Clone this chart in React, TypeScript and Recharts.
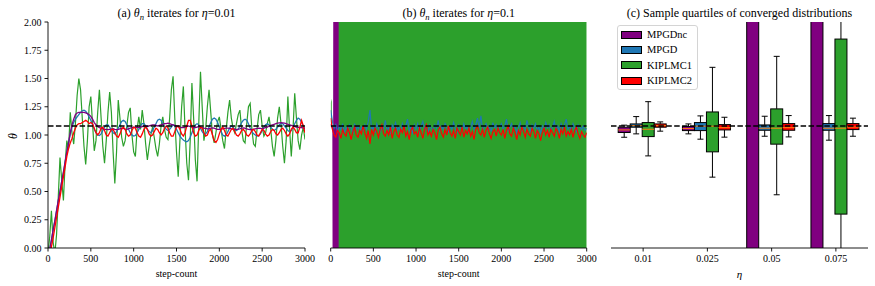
import React from 'react';
import { ComposedChart, Line, Area, Bar, XAxis, YAxis, ReferenceLine } from 'recharts';

const FONT = '"Liberation Serif", "Times New Roman", Times, "DejaVu Serif", serif';

// step-count grid shared by the iterate traces
const steps = [
  0, 20, 40, 60, 80, 100, 120, 140, 160, 180,
  200, 220, 240, 260, 280, 300, 320, 340, 360, 380,
  400, 420, 440, 460, 480, 500, 520, 540, 560, 580,
  600, 620, 640, 660, 680, 700, 720, 740, 760, 780,
  800, 820, 840, 860, 880, 900, 920, 940, 960, 980,
  1000, 1020, 1040, 1060, 1080, 1100, 1120, 1140, 1160, 1180,
  1200, 1220, 1240, 1260, 1280, 1300, 1320, 1340, 1360, 1380,
  1400, 1420, 1440, 1460, 1480, 1500, 1520, 1540, 1560, 1580,
  1600, 1620, 1640, 1660, 1680, 1700, 1720, 1740, 1760, 1780,
  1800, 1820, 1840, 1860, 1880, 1900, 1920, 1940, 1960, 1980,
  2000, 2020, 2040, 2060, 2080, 2100, 2120, 2140, 2160, 2180,
  2200, 2220, 2240, 2260, 2280, 2300, 2320, 2340, 2360, 2380,
  2400, 2420, 2440, 2460, 2480, 2500, 2520, 2540, 2560, 2580,
  2600, 2620, 2640, 2660, 2680, 2700, 2720, 2740, 2760, 2780,
  2800, 2820, 2840, 2860, 2880, 2900, 2920, 2940, 2960, 2980,
  3000,
];

// (a) eta = 0.01
const mpgdncA = [
  -0.1, -0.01, 0.07, 0.16, 0.24, 0.33, 0.42, 0.5, 0.59, 0.67,
  0.76, 0.85, 0.93, 1.02, 1.09, 1.14, 1.18, 1.195, 1.2, 1.2,
  1.2, 1.2, 1.195, 1.19, 1.18, 1.165, 1.14, 1.11, 1.09, 1.075,
  1.065, 1.06, 1.055, 1.05, 1.05, 1.048, 1.05, 1.052, 1.055, 1.05,
  1.048, 1.05, 1.055, 1.06, 1.058, 1.052, 1.05, 1.055, 1.06, 1.065,
  1.068, 1.07, 1.068, 1.065, 1.07, 1.075, 1.08, 1.078, 1.075, 1.08,
  1.085, 1.09, 1.09, 1.085, 1.08, 1.085, 1.09, 1.095, 1.1, 1.1,
  1.105, 1.1, 1.095, 1.09, 1.085, 1.08, 1.075, 1.07, 1.065, 1.065,
  1.07, 1.075, 1.08, 1.075, 1.07, 1.065, 1.065, 1.07, 1.075, 1.07,
  1.065, 1.06, 1.058, 1.055, 1.055, 1.06, 1.062, 1.06, 1.055, 1.05,
  1.05, 1.052, 1.055, 1.058, 1.06, 1.06, 1.058, 1.055, 1.052, 1.05,
  1.05, 1.052, 1.055, 1.06, 1.062, 1.06, 1.055, 1.05, 1.048, 1.05,
  1.052, 1.055, 1.058, 1.06, 1.058, 1.055, 1.06, 1.065, 1.07, 1.08,
  1.085, 1.09, 1.095, 1.1, 1.105, 1.108, 1.11, 1.108, 1.105, 1.1,
  1.095, 1.09, 1.085, 1.08, 1.075, 1.07, 1.068, 1.065, 1.065, 1.062,
  1.06,
];
const mpgdA = [
  -0.1, -0.01, 0.07, 0.16, 0.24, 0.33, 0.42, 0.5, 0.59, 0.67,
  0.76, 0.85, 0.93, 1.01, 1.07, 1.11, 1.14, 1.16, 1.18, 1.2,
  1.215, 1.22, 1.21, 1.19, 1.16, 1.13, 1.09, 1.05, 1.02, 1.0,
  0.995, 1.01, 1.04, 1.07, 1.09, 1.09, 1.07, 1.04, 1.02, 1.01,
  1.03, 1.06, 1.09, 1.12, 1.13, 1.12, 1.09, 1.05, 1.02, 1.0,
  0.99, 0.995, 1.02, 1.05, 1.08, 1.1, 1.1, 1.08, 1.05, 1.03,
  1.02, 1.04, 1.07, 1.1, 1.13, 1.14, 1.13, 1.1, 1.07, 1.05,
  1.04, 1.05, 1.07, 1.09, 1.08, 1.05, 1.02, 0.99, 0.97, 0.955,
  0.945, 0.94, 0.95, 0.98, 1.02, 1.06, 1.09, 1.1, 1.09, 1.06,
  1.03, 1.01, 1.01, 1.03, 1.07, 1.11, 1.14, 1.15, 1.14, 1.11,
  1.07, 1.03, 1.0, 0.99, 1.0, 1.03, 1.06, 1.08, 1.07, 1.05,
  1.04, 1.05, 1.08, 1.11, 1.13, 1.14, 1.13, 1.1, 1.06, 1.03,
  1.01, 1.0, 0.99, 0.995, 1.01, 1.04, 1.07, 1.09, 1.1, 1.09,
  1.07, 1.05, 1.04, 1.05, 1.07, 1.09, 1.1, 1.1, 1.08, 1.06,
  1.04, 1.03, 1.04, 1.07, 1.1, 1.13, 1.15, 1.14, 1.11, 1.08,
  1.05,
];
const kiplmc1A = [
  -0.05, 0.1, 0.33, 0.05, -0.05, 0.12, 0.45, 0.8, 0.6, 0.42,
  0.75, 0.95, 0.88, 1.2, 1.02, 0.92, 1.1, 1.35, 1.5, 1.4,
  1.15, 0.9, 0.74, 0.95, 1.25, 1.34, 1.1, 0.86, 0.95, 1.2,
  1.4, 1.15, 0.9, 0.75, 0.95, 1.2, 1.38, 1.2, 0.85, 0.57,
  0.85, 1.31, 1.15, 0.98, 0.9, 0.95, 1.08, 1.2, 1.24, 1.0,
  0.85, 0.81, 1.05, 1.16, 1.05, 1.22, 1.1, 0.92, 0.78, 0.9,
  1.0, 1.07, 0.98, 0.88, 0.81, 0.92, 1.08, 1.16, 1.05, 0.98,
  0.96, 1.15, 1.4, 1.52, 1.15, 0.85, 0.63, 0.95, 1.25, 1.43,
  1.05, 0.75, 0.6, 0.95, 1.46, 1.15, 0.78, 0.59, 1.1, 1.56,
  1.25, 0.95, 1.05, 1.25, 1.4, 1.2, 1.0, 0.93, 1.02, 1.12,
  1.16, 1.05, 0.95, 0.88, 1.05, 1.2, 1.31, 1.15, 1.06, 1.02,
  1.1, 1.18, 1.22, 1.05, 0.95, 0.93, 1.1, 1.25, 1.28, 1.05,
  0.92, 0.9, 1.05, 1.18, 1.22, 1.08, 0.99, 1.02, 1.1, 1.16,
  1.05, 0.9, 0.81, 0.95, 1.15, 1.25, 1.1, 0.9, 0.75, 0.95,
  1.34, 1.05, 0.81, 1.05, 1.37, 1.15, 0.95, 0.87, 1.0, 1.07,
  0.96,
];
const kiplmc2A = [
  -0.15, -0.06, 0.01, 0.09, 0.18, 0.27, 0.36, 0.45, 0.54, 0.63,
  0.72, 0.81, 0.88, 0.93, 0.97, 1.02, 1.06, 1.09, 1.1, 1.1,
  1.11, 1.12, 1.13, 1.12, 1.1, 1.11, 1.1, 1.06, 1.02, 1.0,
  1.02, 1.06, 1.07, 1.04, 1.0, 0.99, 1.02, 1.05, 1.05, 1.02,
  0.99, 0.98, 1.01, 1.05, 1.07, 1.05, 1.01, 0.99, 1.0, 1.04,
  1.07, 1.06, 1.02, 0.99, 0.98, 1.01, 1.05, 1.07, 1.05, 1.01,
  0.99, 1.0, 1.03, 1.06, 1.05, 1.02, 1.0, 1.02, 1.06, 1.08,
  1.06, 1.02, 0.99, 0.99, 1.03, 1.07, 1.08, 1.05, 1.01, 0.99,
  1.02, 1.08, 1.13, 1.13, 1.08, 1.02, 0.99, 1.0, 1.04, 1.07,
  1.06, 1.02, 0.99, 1.0, 1.04, 1.05, 1.0, 0.95, 0.935, 0.96,
  1.01, 1.05, 1.07, 1.04, 1.0, 0.99, 1.02, 1.05, 1.06, 1.03,
  1.0, 0.99, 1.01, 1.04, 1.05, 1.03, 1.0, 0.99, 1.01, 1.04,
  1.05, 1.03, 1.0, 0.99, 1.02, 1.05, 1.04, 1.01, 0.99, 1.0,
  1.03, 1.05, 1.04, 1.01, 1.0, 1.02, 1.05, 1.06, 1.04, 1.01,
  0.99, 1.01, 1.05, 1.07, 1.05, 1.02, 1.02, 1.07, 1.13, 1.08,
  1.02,
];

// (b) eta = 0.1
const mpgdB = [
  1.22, 1.12, 1.06, 1.09, 1.03, 1.08, 1.05, 1.1, 1.02, 1.07,
  1.04, 1.09, 1.06, 1.01, 1.1, 1.05, 1.08, 1.03, 1.07, 1.04,
  1.09, 1.05, 1.12, 1.22, 1.04, 1.08, 1.02, 1.1, 1.06, 1.03,
  1.08, 1.05, 1.13, 1.04, 1.07, 1.01, 1.09, 1.06, 1.11, 1.04,
  1.07, 1.03, 1.1, 1.05, 1.08, 1.14, 1.04, 1.07, 1.02, 1.09,
  1.05, 1.1, 1.03, 1.08, 1.12, 1.05, 1.07, 1.02, 1.09, 1.06,
  1.04, 1.09, 1.06, 1.13, 1.03, 1.08, 1.05, 1.1, 1.07, 1.03,
  1.08, 1.05, 1.11, 1.06, 1.02, 1.09, 1.07, 1.04, 1.1, 1.05,
  1.08, 1.03, 1.07, 1.12, 1.05, 1.09, 1.15, 1.06, 1.17, 1.04,
  1.07, 1.1, 1.05, 1.08, 1.03, 1.11, 1.06, 1.09, 1.04, 1.07,
  1.1, 1.05, 1.08, 1.14, 1.03, 1.07, 1.1, 1.05, 1.08, 1.02,
  1.06, 1.11, 1.04, 1.08, 1.05, 1.13, 1.07, 1.03, 1.09, 1.06,
  1.1, 1.04, 1.07, 1.02, 1.08, 1.05, 1.11, 1.06, 1.09, 1.04,
  1.07, 1.12, 1.05, 1.08, 1.03, 1.1, 1.06, 1.09, 1.14, 1.05,
  1.08, 1.04, 1.1, 1.06, 1.03, 1.09, 1.07, 1.05, 1.08, 1.04,
  1.06,
];
const kiplmc2B = [
  1.15, 1.05, 1.0, 0.98, 1.04, 1.02, 0.97, 1.05, 1.01, 0.99,
  1.06, 1.02, 0.96, 1.03, 1.07, 1.0, 0.98, 1.04, 1.01, 1.08,
  1.02, 0.97, 1.04, 0.92, 1.05, 1.0, 1.06, 1.03, 0.98, 1.05,
  1.09, 1.01, 0.99, 1.04, 1.0, 1.07, 0.97, 1.03, 1.06, 1.0,
  0.98, 1.05, 1.02, 1.08, 0.99, 1.03, 0.96, 1.04, 1.07, 1.01,
  1.03, 0.98, 1.06, 1.02, 0.97, 1.05, 1.09, 1.0, 1.03, 0.99,
  1.05, 1.02, 0.96, 1.04, 1.07, 1.01, 0.98, 1.05, 1.0, 1.08,
  1.02, 0.99, 1.04, 0.97, 1.06, 1.03, 1.0, 1.07, 0.98, 1.04,
  1.01, 1.06, 0.99, 1.03, 0.96, 1.05, 1.08, 1.02, 1.0, 1.05,
  0.98, 1.04, 1.07, 1.01, 0.97, 1.03, 1.05, 0.99, 1.06, 1.02,
  1.0, 1.05, 0.97, 1.04, 1.08, 1.01, 0.99, 1.06, 1.02, 0.96,
  1.04, 1.0, 1.07, 1.03, 0.98, 1.05, 1.01, 0.99, 1.06, 1.03,
  0.97, 1.04, 1.01, 0.95, 1.02, 1.06, 1.0, 1.04, 0.98, 1.05,
  1.02, 0.99, 1.06, 1.03, 0.97, 1.05, 1.01, 1.07, 0.99, 1.03,
  1.0, 1.05, 0.98, 1.04, 1.07, 1.01, 0.97, 1.03, 1.0, 0.98,
  1.02,
];
// MPGDnc diverges within the first hundred steps
const mpgdncBSteps = [0, 28, 34, 40, 46, 52, 58, 64, 70, 76, 82, 88];
const mpgdncBValues = [1.1, 1.05, -1.5, 3.2, -5, 7.5, -10, 13, -17, 22, -28, 35];
// KIPLMC1 oscillation envelope (blows up past the axis range)
const kiplmc1BSteps = [0, 12, 13, 86, 3000];
const kiplmc1BLow = [1.12, 1.08, null, -1000, -1000];
const kiplmc1BHigh = [1.28, 1.32, null, 1000, 1000];

const thetaStar = 1.08;
const stepTicks = [0, 500, 1000, 1500, 2000, 2500, 3000];
const thetaTicks = [0, 0.25, 0.5, 0.75, 1, 1.25, 1.5, 1.75, 2];
const thetaTickLabels = ['0.00', '0.25', '0.50', '0.75', '1.00', '1.25', '1.50', '1.75', '2.00'];

// (c) quartiles per step size
const etaLabels = ['0.01', '0.025', '0.05', '0.075'];
const mpgdncLo = [0.98, 1.01, -100, -100];
const mpgdncQ1 = [1.022, 1.039, -50, -50];
const mpgdncMed = [1.045, 1.057, null, null];
const mpgdncQ3 = [1.069, 1.075, 50, 50];
const mpgdncHi = [1.087, 1.098, 100, 100];

const mpgdLo = [1.01, 0.963, 0.989, 0.954];
const mpgdQ1 = [1.069, 1.039, 1.042, 1.042];
const mpgdMed = [1.083, 1.078, 1.06, 1.06];
const mpgdQ3 = [1.098, 1.11, 1.089, 1.101];
const mpgdHi = [1.163, 1.169, 1.166, 1.172];

const kiplmc1Lo = [0.815, 0.627, 0.471, -0.5];
const kiplmc1Q1 = [0.986, 0.851, 0.919, 0.3];
const kiplmc1Med = [1.051, 1.078, 1.06, 1.06];
const kiplmc1Q3 = [1.11, 1.204, 1.231, 1.849];
const kiplmc1Hi = [1.295, 1.599, 1.696, 2.6];

const kiplmc2Lo = [1.034, 0.981, 0.983, 0.989];
const kiplmc2Q1 = [1.069, 1.045, 1.042, 1.048];
const kiplmc2Med = [1.083, 1.065, 1.065, 1.07];
const kiplmc2Q3 = [1.098, 1.092, 1.101, 1.101];
const kiplmc2Hi = [1.116, 1.157, 1.172, 1.149];

const COLORS = {
  MPGDnc: '#800080',
  MPGD: '#1f77b4',
  KIPLMC1: '#2ca02c',
  KIPLMC2: '#ff0000',
};
const methodNames = ['MPGDnc', 'MPGD', 'KIPLMC1', 'KIPLMC2'];

const iteratesA = steps.map((step, i) => ({
  step,
  MPGDnc: mpgdncA[i],
  MPGD: mpgdA[i],
  KIPLMC1: kiplmc1A[i],
  KIPLMC2: kiplmc2A[i],
}));
const iteratesB = steps.map((step, i) => ({ step, MPGD: mpgdB[i], KIPLMC2: kiplmc2B[i] }));
const mpgdncBData = mpgdncBSteps.map((step, i) => ({ step, v: mpgdncBValues[i] }));
const kiplmc1BData = kiplmc1BSteps.map((step, i) => ({
  step,
  band: kiplmc1BLow[i] === null ? null : [kiplmc1BLow[i], kiplmc1BHigh[i]],
}));

const stats = (lo, q1, med, q3, hi, i) => ({ lo: lo[i], q1: q1[i], med: med[i], q3: q3[i], hi: hi[i] });
const quartileRows = etaLabels.map((eta, i) => ({
  eta,
  MPGDnc: stats(mpgdncLo, mpgdncQ1, mpgdncMed, mpgdncQ3, mpgdncHi, i),
  MPGD: stats(mpgdLo, mpgdQ1, mpgdMed, mpgdQ3, mpgdHi, i),
  KIPLMC1: stats(kiplmc1Lo, kiplmc1Q1, kiplmc1Med, kiplmc1Q3, kiplmc1Hi, i),
  KIPLMC2: stats(kiplmc2Lo, kiplmc2Q1, kiplmc2Med, kiplmc2Q3, kiplmc2Hi, i),
}));

const axisStroke = { stroke: '#000', strokeWidth: 0.9 };
const tickText = { fontFamily: FONT, fontSize: 10, fill: '#000' };
const thetaLabel = (v: number) => thetaTickLabels[thetaTicks.indexOf(v)] ?? '';
const blank = () => '';

// box + whiskers; the bar rectangle spans q1..q3, whiskers reuse its value-to-pixel ratio
const makeBox = (method: string) => (props: any) => {
  const { x, y, width, height, payload } = props;
  const s = payload[method];
  const top = Math.min(y, y + height);
  const h = Math.abs(height);
  const k = h / (s.q3 - s.q1);
  const py = (v: number) => top + (s.q3 - v) * k;
  const cx = x + width / 2;
  const cap = width / 4;
  return (
    <g>
      <line x1={cx} x2={cx} y1={py(s.hi)} y2={top} stroke="#000" strokeWidth={1} />
      <line x1={cx} x2={cx} y1={top + h} y2={py(s.lo)} stroke="#000" strokeWidth={1} />
      <line x1={cx - cap} x2={cx + cap} y1={py(s.hi)} y2={py(s.hi)} stroke="#000" strokeWidth={1} />
      <line x1={cx - cap} x2={cx + cap} y1={py(s.lo)} y2={py(s.lo)} stroke="#000" strokeWidth={1} />
      <rect x={x} y={top} width={width} height={h} fill={COLORS[method]} stroke="#000" strokeWidth={1} />
      {s.med !== null && (
        <line x1={x} x2={x + width} y1={py(s.med)} y2={py(s.med)} stroke="#ff7f0e" strokeWidth={1} />
      )}
    </g>
  );
};

const Title = ({ cx, children }: { cx: number; children: React.ReactNode }) => (
  <div
    style={{
      position: 'absolute',
      left: cx - 160,
      width: 320,
      top: 5,
      textAlign: 'center',
      fontSize: 12,
      lineHeight: '16px',
      whiteSpace: 'nowrap',
    }}
  >
    {children}
  </div>
);

const Sub = ({ children }: { children: React.ReactNode }) => (
  <span style={{ fontSize: '0.72em', fontStyle: 'italic', position: 'relative', top: '0.3em' }}>{children}</span>
);

const AxisLabel = ({ cx, children }: { cx: number; children: React.ReactNode }) => (
  <div
    style={{
      position: 'absolute',
      left: cx - 60,
      width: 120,
      top: 266,
      textAlign: 'center',
      fontSize: 10,
      lineHeight: '16px',
    }}
  >
    {children}
  </div>
);

const thetaLine = (
  <ReferenceLine y={thetaStar} stroke="#000" strokeWidth={1.5} strokeDasharray="5.5 2.4" ifOverflow="hidden" />
);

const frameAxes = (xType: 'number' | 'category') => [
  xType === 'number' ? (
    <XAxis key="xt" xAxisId="top" orientation="top" type="number" dataKey="step" domain={[0, 3000]} allowDataOverflow tick={false} tickLine={false} axisLine={axisStroke} height={0} />
  ) : (
    <XAxis key="xt" xAxisId="top" orientation="top" type="category" dataKey="eta" tick={false} tickLine={false} axisLine={axisStroke} height={0} />
  ),
  <YAxis key="yr" yAxisId="right" orientation="right" type="number" domain={[0, 2]} allowDataOverflow tick={false} tickLine={false} axisLine={axisStroke} width={0} />,
];

const Legend = () => (
  <div
    style={{
      position: 'absolute',
      left: 617,
      top: 25,
      width: 81,
      height: 65,
      border: '1px solid #d4d4d4',
      borderRadius: 3,
      background: 'rgba(255,255,255,0.85)',
      boxSizing: 'border-box',
      paddingTop: 1,
    }}
  >
    {methodNames.map((m) => (
      <div key={m} style={{ display: 'flex', alignItems: 'center', height: 15.3, fontSize: 10.5 }}>
        <span
          style={{
            display: 'inline-block',
            width: 21,
            height: 8,
            marginLeft: 3,
            marginRight: 5,
            background: COLORS[m],
            border: '1px solid #000',
            boxSizing: 'border-box',
          }}
        />
        <span>{m}</span>
      </div>
    ))}
  </div>
);

export default function App() {
  return (
    <div
      style={{
        position: 'absolute',
        left: 0,
        top: 0,
        width: 875,
        height: 286,
        background: '#fff',
        fontFamily: FONT,
        color: '#000',
        overflow: 'hidden',
      }}
    >
      {/* (a) */}
      <div style={{ position: 'absolute', left: 0, top: 0 }}>
        <ComposedChart width={316} height={286} data={iteratesA} margin={{ top: 22, right: 11, bottom: 8, left: 0 }}>
          <XAxis dataKey="step" type="number" domain={[0, 3000]} ticks={stepTicks} allowDataOverflow tick={tickText} tickSize={3.5} tickMargin={3} axisLine={axisStroke} tickLine={axisStroke} height={30} />
          <YAxis type="number" domain={[0, 2]} ticks={thetaTicks} allowDataOverflow tick={tickText} tickFormatter={thetaLabel} tickSize={3.5} tickMargin={3} axisLine={axisStroke} tickLine={axisStroke} width={48} />
          {frameAxes('number')}
          <Line dataKey="KIPLMC1" stroke={COLORS.KIPLMC1} strokeWidth={1.2} dot={false} isAnimationActive={false} type="linear" />
          <Line dataKey="MPGD" stroke={COLORS.MPGD} strokeWidth={1.3} dot={false} isAnimationActive={false} type="linear" />
          <Line dataKey="MPGDnc" stroke={COLORS.MPGDnc} strokeWidth={1.3} dot={false} isAnimationActive={false} type="linear" />
          <Line dataKey="KIPLMC2" stroke={COLORS.KIPLMC2} strokeWidth={1.3} dot={false} isAnimationActive={false} type="linear" />
          {thetaLine}
        </ComposedChart>
      </div>

      {/* (b) */}
      <div style={{ position: 'absolute', left: 316, top: 0 }}>
        <ComposedChart width={282} height={286} data={iteratesB} margin={{ top: 22, right: 11.3, bottom: 8, left: 14.7 }}>
          <XAxis dataKey="step" type="number" domain={[0, 3000]} ticks={stepTicks} allowDataOverflow tick={tickText} tickSize={3.5} tickMargin={3} axisLine={axisStroke} tickLine={axisStroke} height={30} />
          <YAxis type="number" domain={[0, 2]} ticks={thetaTicks} allowDataOverflow tick={tickText} tickFormatter={blank} tickSize={3.5} tickMargin={3} axisLine={axisStroke} tickLine={axisStroke} width={0} />
          {frameAxes('number')}
          <Area data={kiplmc1BData} dataKey="band" stroke="none" fill={COLORS.KIPLMC1} fillOpacity={1} isAnimationActive={false} type="linear" />
          <Line data={mpgdncBData} dataKey="v" stroke={COLORS.MPGDnc} strokeWidth={1.5} dot={false} isAnimationActive={false} type="linear" />
          <Line dataKey="MPGD" stroke={COLORS.MPGD} strokeWidth={1.2} dot={false} isAnimationActive={false} type="linear" />
          <Line dataKey="KIPLMC2" stroke={COLORS.KIPLMC2} strokeWidth={1.2} dot={false} isAnimationActive={false} type="linear" />
          {thetaLine}
        </ComposedChart>
      </div>

      {/* (c) */}
      <div style={{ position: 'absolute', left: 598, top: 0 }}>
        <ComposedChart width={277} height={286} data={quartileRows} margin={{ top: 22, right: 7, bottom: 8, left: 13 }} barCategoryGap={7.2} barGap={0}>
          <XAxis dataKey="eta" type="category" tick={tickText} tickSize={3.5} tickMargin={3} axisLine={axisStroke} tickLine={axisStroke} height={30} />
          <YAxis type="number" domain={[0, 2]} ticks={thetaTicks} allowDataOverflow tick={tickText} tickFormatter={blank} tickSize={3.5} tickMargin={3} axisLine={axisStroke} tickLine={axisStroke} width={0} />
          {frameAxes('category')}
          {thetaLine}
          {methodNames.map((m) => (
            <Bar
              key={m}
              dataKey={(row: any) => [row[m].q1, row[m].q3]}
              fill={COLORS[m]}
              shape={makeBox(m)}
              isAnimationActive={false}
            />
          ))}
        </ComposedChart>
      </div>

      <Title cx={176.5}>
        (a) <i>θ</i>
        <Sub>n</Sub> iterates for <i>η</i>=0.01
      </Title>
      <Title cx={458.7}>
        (b) <i>θ</i>
        <Sub>n</Sub> iterates for <i>η</i>=0.1
      </Title>
      <Title cx={739.5}>(c) Sample quartiles of converged distributions</Title>

      <AxisLabel cx={176.5}>step-count</AxisLabel>
      <AxisLabel cx={458.7}>step-count</AxisLabel>
      <AxisLabel cx={739.5}>
        <i style={{ fontSize: 11 }}>η</i>
      </AxisLabel>

      <div
        style={{
          position: 'absolute',
          left: 4,
          top: 128,
          width: 18,
          height: 16,
          textAlign: 'center',
          fontSize: 12,
          lineHeight: '16px',
          fontStyle: 'italic',
          transform: 'rotate(-90deg)',
        }}
      >
        θ
      </div>

      <Legend />
    </div>
  );
}
